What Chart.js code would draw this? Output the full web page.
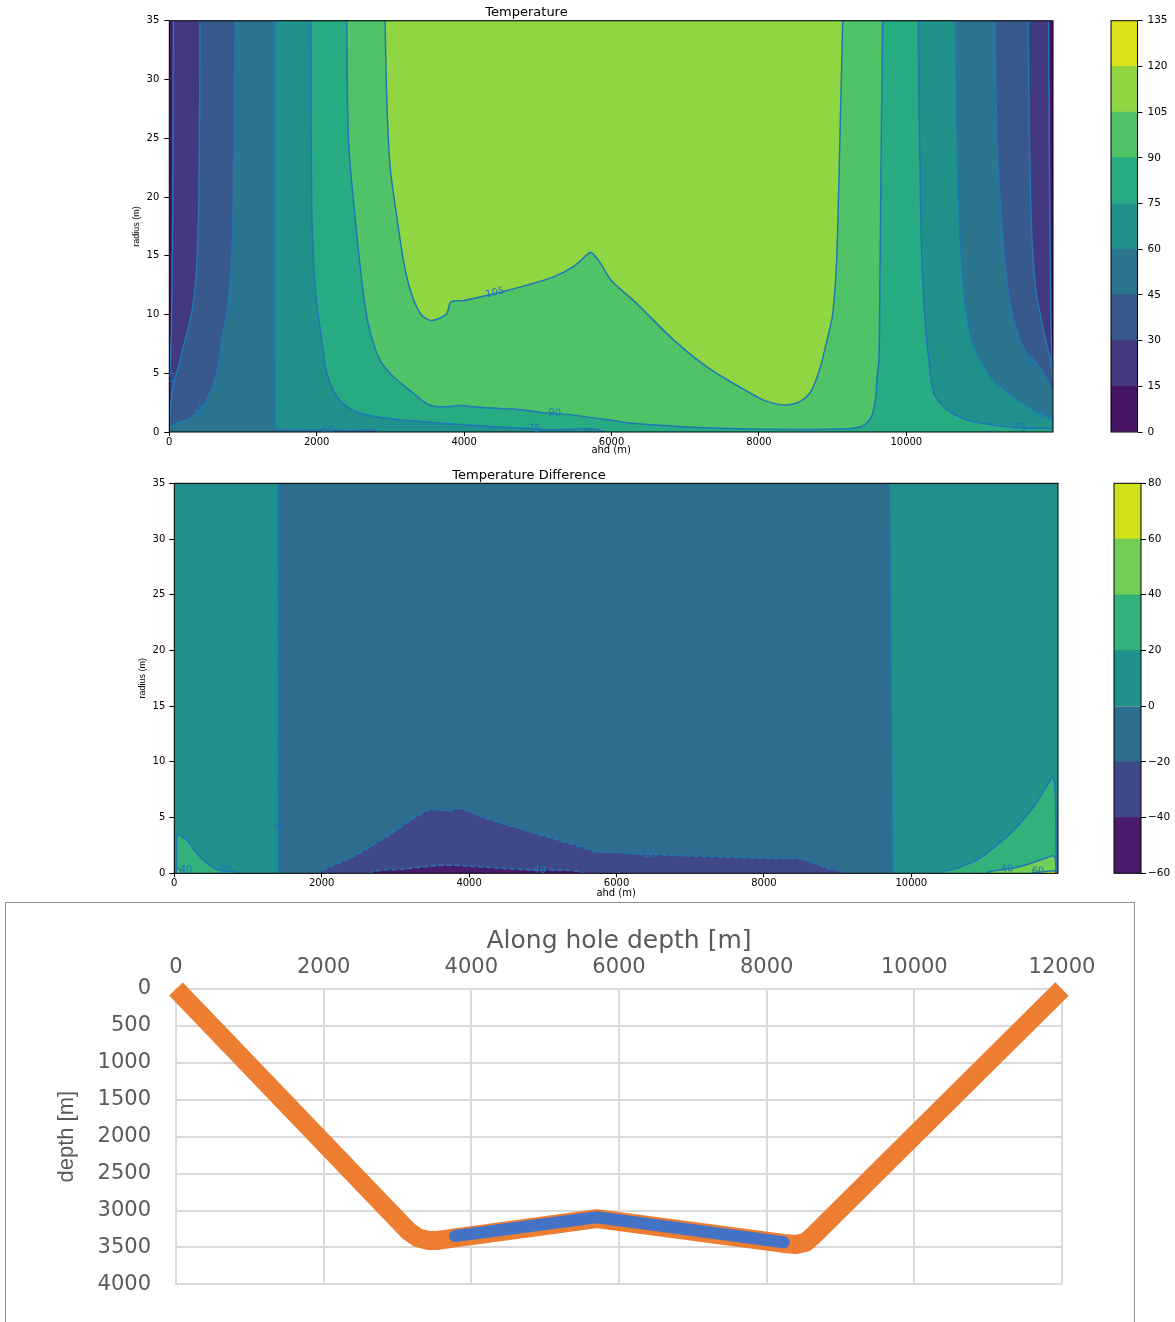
<!DOCTYPE html>
<html>
<head>
<meta charset="utf-8">
<script src="https://cdn.jsdelivr.net/npm/chart.js@4.4.1/dist/chart.umd.min.js"></script>
<style>
  body { margin: 0; background: #fff; width: 1175px; height: 1322px; overflow: hidden; position: relative; }
  canvas { position: absolute; }
  #wellBox { position: absolute; left: 5px; top: 902px; width: 1128px; height: 440px; border: 1px solid #8f8f8f; }
</style>
</head>
<body>
<canvas id="tempChart" width="1100" height="456" style="left:0;top:0"></canvas>
<canvas id="tempBar" width="75" height="456" style="left:1100px;top:0"></canvas>
<canvas id="diffChart" width="1100" height="444" style="left:0;top:456px"></canvas>
<canvas id="diffBar" width="75" height="444" style="left:1100px;top:456px"></canvas>
<div id="wellBox"><canvas id="wellChart" width="1128" height="419" style="left:0;top:0"></canvas></div>
<script>
const AHD_MAX = 11990;
const RADIUS_MAX = 35;
const ahdTicks = [0, 2000, 4000, 6000, 8000, 10000];
const MPL_FONT = '"DejaVu Sans", sans-serif';
const LINE_BLUE = '#1f77b4';

// ---- Temperature: levels and the region above each level, [ahd m, radius m]
const tempLevels = [0, 15, 30, 45, 60, 75, 90, 105, 120, 135];
const tempAbove0 = [[-100,-2],[12100,-2],[12100,37],[-100,37]];
const tempAbove15 = [[54,37],[54,35],[50,25],[42,15],[30,9],[15,6],[5,4.8],[0,4.5],[-100,4.5],[-100,-2],[12100,-2],
  [12100,4.8],[12000,4.8],[11985,5],[11975,6],[11960,10],[11945,20],[11930,35],[11930,37]];
const tempAbove30 = [[416,37],[416,35],[410,25],[395,18],[360,13],[300,10],[200,7.5],[120,5.5],[54,4],[19,2.2],[5,1],[0,0.6],
  [-100,0.6],[-100,-2],[12100,-2],[12100,4.5],[12000,4.5],[11980,5],[11958,6.1],[11920,7],[11850,9],[11760,12],
  [11700,17],[11670,25],[11654,35],[11654,37]];
const tempAbove45 = [[892,37],[892,35],[885,28],[870,20],[840,14],[790,10.5],[740,8.8],[711,7.8],[688,6.4],[643,5],[552,3.3],
  [417,1.87],[281,1.16],[100,0.74],[0,0.45],[-100,0.45],[-100,-2],[12100,-2],[12100,3.6],[11990,3.6],[11958,3.85],
  [11860,5],[11730,6.1],[11600,7],[11480,9],[11380,12],[11290,18],[11230,25],[11203,35],[11203,37]];
const tempAbove60 = [[1426,37],[1426,35],[1430,10],[1433,2],[1435,0.6],[1460,0.35],[1503,0.23],[1956,0.2],[2500,0.15],
  [2816,0.11],[2850,-2],[12100,-2],[12100,1],[11990,1],[11913,1.3],[11732,1.87],[11460,3],[11188,4.4],[11007,6.1],
  [10880,8],[10780,12],[10720,18],[10690,25],[10668,35],[10668,37]];
const tempAbove75 = [[1919,37],[1919,35],[1930,20],[1960,14],[2000,11],[2069,7.8],[2137,5],[2273,3],[2400,2.2],[2589,1.6],
  [3037,1.1],[3500,0.85],[3900,0.65],[4717,0.35],[5169,0.2],[5893,0.05],[5950,-2],[12100,-2],[12100,0.3],[11990,0.3],
  [11686,0.3],[11370,0.45],[11188,0.6],[10827,1.02],[10555,1.9],[10374,3.3],[10307,6.1],[10260,9],[10210,15],
  [10180,25],[10162,35],[10162,37]];
const tempAbove90 = [[2408,37],[2408,35],[2430,25],[2498,19.7],[2589,14.1],[2650,11],[2725,8.5],[2861,6.1],[3042,4.7],
  [3313,3.3],[3495,2.4],[3650,2.15],[3856,2.2],[3947,2.25],[4200,2.1],[4761,1.9],[5078,1.64],[5395,1.5],[6000,1],
  [6210,0.79],[6975,0.45],[7500,0.32],[8156,0.23],[9100,0.25],[9376,0.45],[9515,1.16],[9580,2.7],[9604,4.7],
  [9628,6.1],[9645,15],[9660,25],[9677,35],[9677,37]];
const tempAbove105 = [[2928,37],[2928,35],[2951,28.3],[2996,22.6],[3087,18.3],[3177,14.6],[3268,12.1],[3404,10.1],
  [3539,9.5],[3675,9.7],[3766,10.1],[3810,11],[3856,11.15],[3992,11.2],[4490,11.9],[4852,12.5],[5214,13.2],
  [5486,14.1],[5712,15.3],[5757,15.1],[5848,14.4],[5998,12.9],[6349,10.9],[6849,7.8],[7350,5.3],[8000,2.9],
  [8156,2.5],[8383,2.3],[8563,2.6],[8699,3.4],[8790,4.7],[8858,6.1],[8950,8.5],[9000,10],[9050,14],[9080,20],
  [9110,28],[9137,35],[9137,37]];

// ---- Temperature difference: levels and regions, [ahd m, radius m]
const diffLevels = [-60, -40, -20, 0, 20, 40, 60, 80];
const diffAboveM60 = [[-100,-2],[12100,-2],[12100,37],[-100,37]];
const diffAboveM40 = [[-100,37],[12100,37],[12100,-2],[5560,-2],[5553,0],[4829,0.3],[4241,0.54],[3788,0.72],[3562,0.68],
  [3109,0.38],[2657,0],[2650,-2],[-100,-2]];
const diffAboveM20 = [[-100,37],[12100,37],[12100,-2],[9100,-2],[9084,0],[8858,0.45],[8675,0.9],[8495,1.31],[8088,1.35],
  [7000,1.55],[6260,1.75],[6051,1.85],[5734,1.9],[5598,2.2],[5146,3.1],[4693,4],[4241,4.9],[3856,5.83],[3743,5.6],
  [3471,5.7],[3245,4.9],[2883,3.3],[2430,1.5],[1978,0],[1970,-2],[-100,-2]];
const diffAbove0 = [[-100,37],[1412,37],[1413,10],[1414,-1],[9752,-1],[9735,10],[9700,37],[12100,37],[12100,-2],[-100,-2]];
const diffAbove20L = [[30,-2],[30,3.2],[54,3.5],[100,3.3],[168,3],[304,1.8],[440,0.9],[576,0.36],[700,0.2],[847,0.05],[870,-2]];
const diffAbove20R = [[10380,-2],[10396,0],[10600,0.4],[10895,1.2],[11100,2.2],[11347,3.6],[11663,6],[11890,8.4],
  [11927,8.6],[11950,7.5],[11960,5],[11965,0],[11965,-2]];
const diffAbove40L = [[30,-2],[30,0.45],[60,0.42],[85,0.2],[95,-2]];
const diffAbove40R = [[11000,-2],[11031,0],[11100,0.2],[11300,0.38],[11438,0.54],[11600,0.85],[11754,1.2],[11880,1.5],
  [11913,1.58],[11950,1.4],[11965,0],[11965,-2]];
const diffAbove60R = [[11620,-2],[11650,0.06],[11800,0.13],[11900,0.2],[11950,0.22],[11965,0],[11965,-2]];

// ---- Well trajectory (along hole depth m, depth m)
const wellAhd   = [0, 3150, 3280, 3420, 3550, 3780, 5700, 8230, 8400, 8530, 8640, 12000];
const wellDepth = [0, 3280, 3370, 3405, 3405, 3370, 3110, 3445, 3460, 3430, 3330, 0];
const lateralAhd   = [3780, 5700, 8230];
const lateralDepth = [3345, 3090, 3430];

const tempColors = ['#471365','#433981','#38598c','#2b758e','#21918c','#26ab82','#50c369','#90d643','#dde318'];
const diffColors = ['#481b6d','#3f4888','#2f6d8e','#21918c','#31b27b','#72ce55','#d0e11c'];

function region(points, color, line, smooth) {
  return {
    data: points.map(p => ({x: p[0], y: p[1]})),
    backgroundColor: color,
    borderColor: line ? LINE_BLUE : 'rgba(0,0,0,0)',
    borderWidth: line ? 1.5 : 1,
    borderDash: line === 'dash' ? [5.5, 2.4] : [],
    fill: 'shape', pointRadius: 0, pointHoverRadius: 0,
    tension: smooth ? 0.3 : 0, capBezierPoints: false, clip: 0
  };
}

const framePlugin = {
  id: 'frame',
  afterDatasetsDraw(chart) {
    const {ctx, chartArea: a} = chart;
    ctx.save();
    ctx.strokeStyle = '#000';
    ctx.lineWidth = 1;
    ctx.strokeRect(a.left, a.top, a.right - a.left, a.bottom - a.top);
    ctx.restore();
  }
};

// contour labels sit on their contour, turned along its nearest segment
function labelPlugin(items) {
  return {
    id: 'contourLabels',
    afterDatasetsDraw(chart) {
      const {ctx, chartArea: a, scales: {x, y}} = chart;
      ctx.save();
      ctx.beginPath(); ctx.rect(a.left, a.top, a.right - a.left, a.bottom - a.top); ctx.clip();
      ctx.font = '10px ' + MPL_FONT;
      ctx.fillStyle = LINE_BLUE;
      ctx.textAlign = 'center';
      ctx.textBaseline = 'middle';
      for (const [text, ax, ar, line] of items) {
        const px = x.getPixelForValue(ax), py = y.getPixelForValue(ar);
        let angle = 0, best = Infinity;
        if (line) {
          for (let i = 0; i < line.length - 1; i++) {
            const x1 = x.getPixelForValue(line[i][0]), y1 = y.getPixelForValue(line[i][1]);
            const dx = x.getPixelForValue(line[i + 1][0]) - x1, dy = y.getPixelForValue(line[i + 1][1]) - y1;
            const t = Math.max(0, Math.min(1, ((px - x1) * dx + (py - y1) * dy) / (dx * dx + dy * dy || 1)));
            const d = Math.hypot(px - x1 - t * dx, py - y1 - t * dy);
            if (d < best) { best = d; angle = Math.atan2(dy, dx); }
          }
          if (angle > Math.PI / 2) angle -= Math.PI;
          if (angle < -Math.PI / 2) angle += Math.PI;
        }
        ctx.save(); ctx.translate(px, py); ctx.rotate(angle); ctx.fillText(text, 0, 0); ctx.restore();
      }
      ctx.restore();
    }
  };
}

function contourChart(id, datasets, o, labels) {
  const tickFont = {family: MPL_FONT, size: 10};
  return new Chart(document.getElementById(id), {
    type: 'line',
    data: {datasets},
    options: {
      responsive: false, animation: false, devicePixelRatio: 1,
      layout: {padding: {left: 0, right: o.right, top: 0, bottom: 0}},
      plugins: {
        legend: {display: false}, tooltip: {enabled: false},
        filler: {drawTime: 'beforeDatasetsDraw'},
        title: {display: true, text: o.title, color: '#000', font: {family: MPL_FONT, size: 13, weight: 'normal'}, padding: o.titlePad}
      },
      scales: {
        x: {type: 'linear', min: 0, max: AHD_MAX,
          afterBuildTicks: s => { s.ticks = ahdTicks.map(v => ({value: v})); },
          ticks: {autoSkip: false, maxRotation: 0, padding: 0, color: '#000', font: tickFont, callback: v => String(v)},
          grid: {drawOnChartArea: false, tickLength: 4, color: '#000'},
          border: {display: false},
          title: {display: true, text: 'ahd (m)', color: '#000', font: tickFont, padding: {top: 0, bottom: o.xTitleBottom}},
          afterFit: s => { s.height = o.xH; }},
        y: {type: 'linear', min: 0, max: RADIUS_MAX,
          ticks: {stepSize: 5, padding: o.yTickPad, color: '#000', font: tickFont},
          grid: {drawOnChartArea: false, tickLength: 5, color: '#000'},
          border: {display: false},
          title: {display: true, text: 'radius (m)', color: '#000', font: {family: '"Liberation Sans", sans-serif', size: 9}, padding: {top: o.yTitlePad, bottom: 0}},
          afterFit: s => { s.width = o.yW; }}
      }
    },
    plugins: [framePlugin, labelPlugin(labels)]
  });
}

function colorbar(id, levels, colors, o) {
  const minus = v => String(v).replace('-', '\u2212');
  return new Chart(document.getElementById(id), {
    type: 'bar',
    data: {labels: [''], datasets: colors.map((c, i) => ({
      data: [[levels[i], levels[i + 1]]], backgroundColor: c, borderWidth: 0,
      grouped: false, barPercentage: 1, categoryPercentage: 1
    }))},
    options: {
      responsive: false, animation: false, devicePixelRatio: 1,
      layout: {padding: o.pad},
      plugins: {legend: {display: false}, tooltip: {enabled: false}},
      scales: {
        x: {display: false},
        y: {position: 'right', min: levels[0], max: levels[levels.length - 1],
          ticks: {stepSize: levels[1] - levels[0], padding: o.tickPad, color: '#000', font: {family: MPL_FONT, size: 10.5}, callback: minus},
          grid: {drawOnChartArea: false, tickLength: 5, color: '#000'},
          border: {display: false},
          afterFit: s => { s.width = o.w; }}
      }
    },
    plugins: [framePlugin]
  });
}

contourChart('tempChart', [
  region(tempAbove105, tempColors[7], 'solid', true),
  region(tempAbove90, tempColors[6], 'solid', true),
  region(tempAbove75, tempColors[5], 'solid', true),
  region(tempAbove60, tempColors[4], 'solid', true),
  region(tempAbove45, tempColors[3], 'solid', true),
  region(tempAbove30, tempColors[2], 'solid', true),
  region(tempAbove15, tempColors[1], 'solid', true),
  region(tempAbove0, tempColors[0], null, false)
], {title: 'Temperature', titlePad: {top: 5.2, bottom: 0}, right: 47, xH: 24, yW: 169.3,
    xTitleBottom: 0, yTickPad: 5, yTitlePad: 131.6},
[
  ['105', 4420, 11.85, tempAbove105], ['90', 5230, 1.6, tempAbove90], ['75', 4950, 0.27, tempAbove75],
  ['60', 2150, 0.18, tempAbove60], ['45', 430, 1.9, tempAbove45], ['15', 20, 4.6, tempAbove15],
  ['45', 11700, 5.7, tempAbove45], ['60', 11790, 1.5, tempAbove60], ['75', 11540, 0.37, tempAbove75]
]);

contourChart('diffChart', [
  region(diffAbove60R, diffColors[6], 'solid', false),
  region(diffAbove40R, diffColors[5], 'solid', true),
  region(diffAbove40L, diffColors[5], 'solid', false),
  region(diffAbove20R, diffColors[4], 'solid', true),
  region(diffAbove20L, diffColors[4], 'solid', true),
  region(diffAbove0, diffColors[3], 'solid', false),
  region(diffAboveM20, diffColors[2], 'dash', true),
  region(diffAboveM40, diffColors[1], 'dash', true),
  region(diffAboveM60, diffColors[0], null, false)
], {title: 'Temperature Difference', titlePad: {top: 11.7, bottom: 0}, right: 42, xH: 26.7, yW: 174.3,
    xTitleBottom: 1, yTickPad: 4, yTitlePad: 137.1},
[
  ['40', 160, 0.23, null], ['20', 700, 0.22, null], ['0', 1380, 4.2, diffAbove0],
  ['\u221240', 4900, 0.3, diffAboveM40], ['\u221220', 6400, 1.7, diffAboveM20],
  ['40', 11300, 0.38, diffAbove40R], ['60', 11720, 0.18, diffAbove60R]
]);

colorbar('tempBar', tempLevels, tempColors, {pad: {left: 11, right: 0, top: 20.7, bottom: 24}, w: 37.5, tickPad: 5});
colorbar('diffBar', diffLevels, diffColors, {pad: {left: 14, right: 0, top: 27.3, bottom: 26.7}, w: 34, tickPad: 2});

// ---- Excel style trajectory chart
const xlGrey = '#595959';
const xlGrid = '#d9d9d9';
new Chart(document.getElementById('wellChart'), {
  type: 'line',
  data: {datasets: [
    {data: lateralAhd.map((v, i) => ({x: v, y: lateralDepth[i]})), borderColor: '#4472c4', borderWidth: 12,
     borderCapStyle: 'round', borderJoinStyle: 'round', pointRadius: 0, tension: 0, fill: false, clip: false},
    {data: wellAhd.map((v, i) => ({x: v, y: wellDepth[i]})), borderColor: '#ed7d31', borderWidth: 19,
     borderCapStyle: 'butt', borderJoinStyle: 'round', pointRadius: 0, tension: 0, fill: false, clip: false}
  ]},
  options: {
    responsive: false, animation: false, devicePixelRatio: 1,
    layout: {padding: {left: 0, right: 72, top: 0, bottom: 22}},
    plugins: {legend: {display: false}, tooltip: {enabled: false}},
    scales: {
      x: {type: 'linear', position: 'top', min: 0, max: 12000,
        ticks: {stepSize: 2000, maxRotation: 0, autoSkip: false, padding: 9, color: xlGrey, font: {family: MPL_FONT, size: 21}, callback: v => String(v)},
        grid: {color: xlGrid, lineWidth: 2, drawTicks: false},
        border: {color: xlGrid, width: 2},
        title: {display: true, text: 'Along hole depth [m]', color: xlGrey, font: {family: MPL_FONT, size: 25}, padding: {top: 23, bottom: 0}},
        afterFit: s => { s.height = 86; }},
      y: {type: 'linear', reverse: true, min: 0, max: 4000,
        ticks: {stepSize: 500, padding: 25, color: xlGrey, font: {family: MPL_FONT, size: 21}, callback: v => String(v)},
        grid: {color: xlGrid, lineWidth: 2, drawTicks: false},
        border: {color: xlGrid, width: 2},
        title: {display: true, text: 'depth [m]', color: xlGrey, font: {family: '"Liberation Sans", sans-serif', size: 22}, padding: {top: 47.8, bottom: 0}},
        afterFit: s => { s.width = 170; }}
    }
  }
});
</script>
</body>
</html>
